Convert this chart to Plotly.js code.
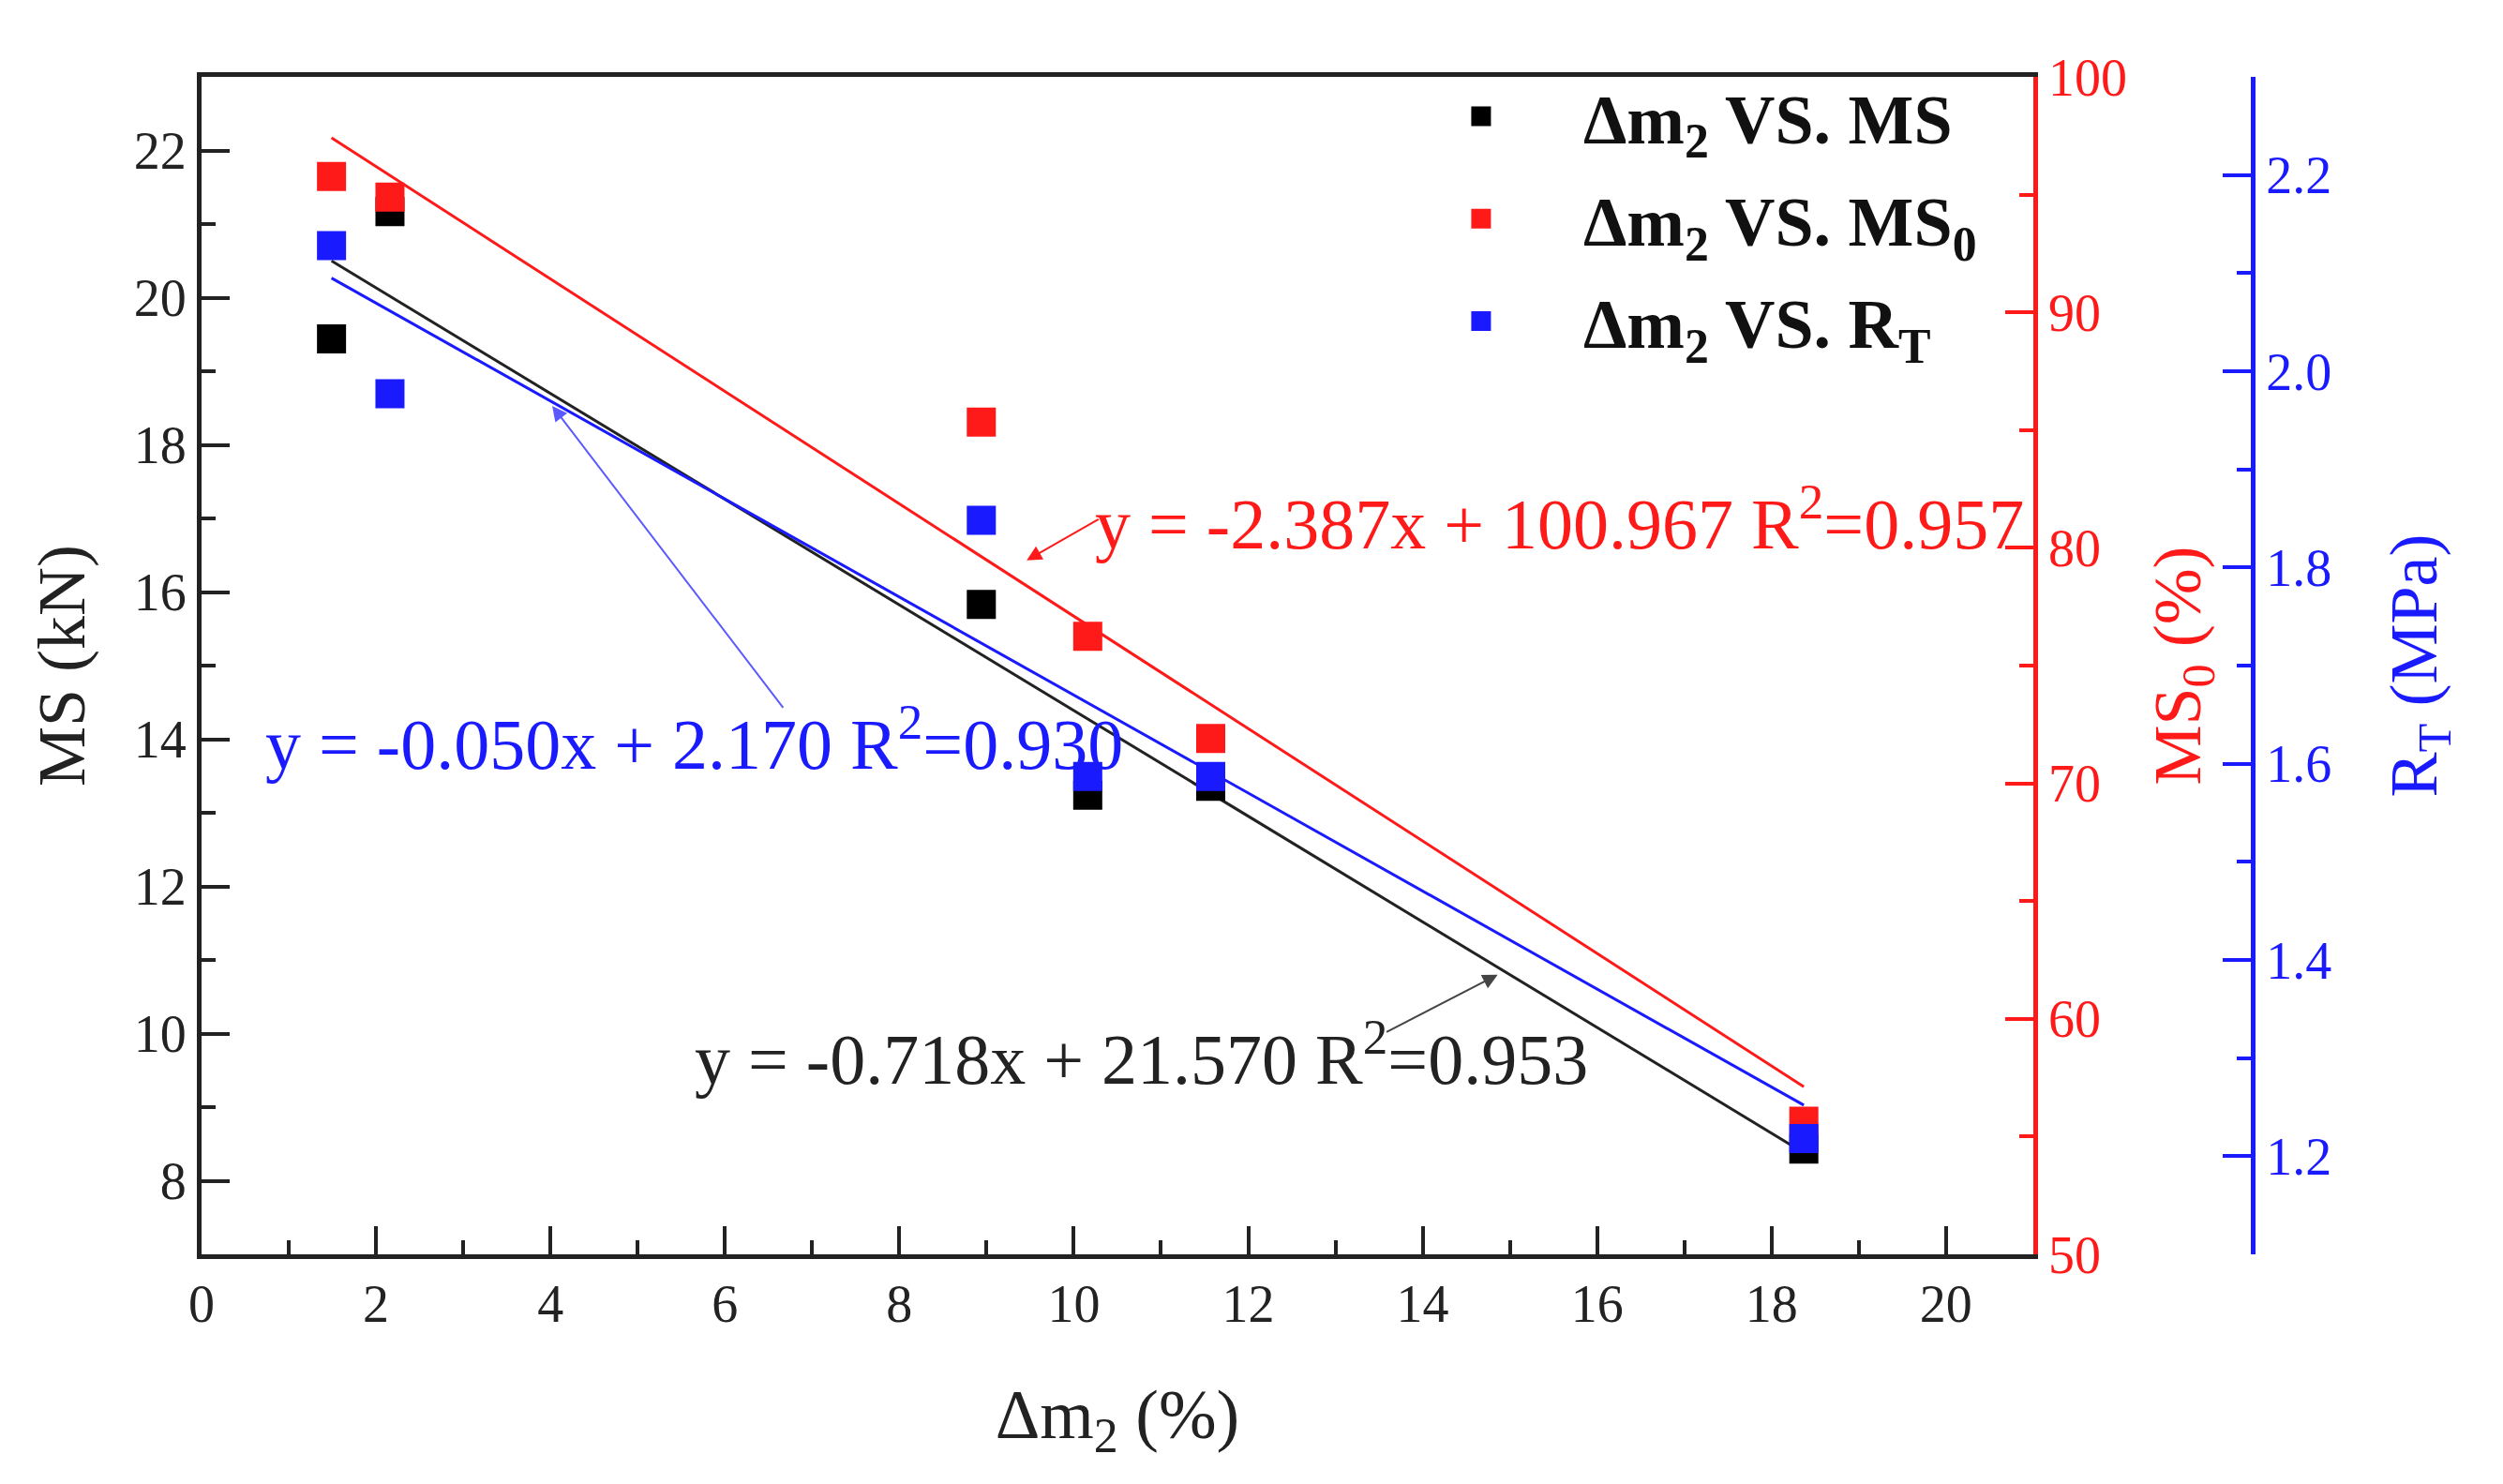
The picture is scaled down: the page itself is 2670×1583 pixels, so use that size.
<!DOCTYPE html>
<html>
<head>
<meta charset="utf-8">
<script src="https://cdn.plot.ly/plotly-3.0.1.min.js"></script>
<style>
  html, body { margin: 0; padding: 0; background: #fff; }
  #chart { width: 2670px; height: 1583px; }
</style>
</head>
<body>
<div id="chart"></div>
<script>
// values
var dm2 = [1.49, 2.16, 8.94, 10.16, 11.57, 18.37];
var ms = [19.44, 21.17, 15.83, 13.24, 13.36, 8.43];
var ms0 = [95.77, 94.89, 85.34, 76.24, 71.9, 55.65];
var rt = [2.128, 1.977, 1.848, 1.587, 1.587, 1.218];

// fitted lines, end points
var fitX = [1.49, 18.37];
var fitMS = [20.50, 8.38];
var fitMS0 = [97.41, 57.12];
var fitRT = [2.095, 1.252];

var FONT = 'Liberation Serif, Times New Roman, serif';
var RED = '#ff1a1a';
var BLUE = '#1a1aff';

function line(y, color, axis) {
    return {
        x: fitX, y: y, yaxis: axis,
        mode: 'lines', type: 'scatter',
        line: {color: color, width: 3},
        showlegend: false, hoverinfo: 'skip'
    }
}

// marker outline in the same colour, so the legend symbol gets bigger too
function pts(y, color, axis, name, grp) {
    return {
        x: dm2, y: y, yaxis: axis,
        mode: 'markers', type: 'scatter', name: name, legendgroup: grp,
        marker: {symbol: 'square', size: 26, color: color, line: {width: 5, color: color}}
    }
}

var data = [
    line(fitMS, '#222', 'y'),
    line(fitMS0, RED, 'y2'),
    line(fitRT, BLUE, 'y3'),
    pts(ms, '#000', 'y', '<b>Δm<sub>2</sub> VS. MS</b>', 'a'),
    pts(ms0, RED, 'y2', '<b>Δm<sub>2</sub> VS. MS<sub>0</sub></b>', 'b'),
    pts(rt, BLUE, 'y3', '<b>Δm<sub>2</sub> VS. R<sub>T</sub></b>', 'c')
];

var tickf = {family: FONT, size: 56, color: '#222'};
var eqf = 76;

// arrows + equation labels
var annotations = [
    {x: 10.78, y: 9.72, xref: 'x', yref: 'y', showarrow: false,
     text: 'y = -0.718x + 21.570 R<sup>2</sup>=0.953',
     font: {family: FONT, size: eqf, color: '#222'}},
    {x: 15.57, y: 17.0, xref: 'x', yref: 'y', showarrow: false,
     text: 'y = -2.387x + 100.967 R<sup>2</sup>=0.957',
     font: {family: FONT, size: eqf, color: RED}},
    {x: 5.65, y: 14.0, xref: 'x', yref: 'y', showarrow: false,
     text: 'y = -0.050x + 2.170 R<sup>2</sup>=0.930',
     font: {family: FONT, size: eqf, color: BLUE}},
    {x: 14.86, y: 10.8, ax: 13.57, ay: 10.01, xref: 'x', yref: 'y', axref: 'x', ayref: 'y',
     text: '', showarrow: true, arrowhead: 2, arrowsize: 1.6, arrowwidth: 2, arrowcolor: '#444'},
    {x: 9.46, y: 16.43, ax: 10.3, ay: 17.0, xref: 'x', yref: 'y', axref: 'x', ayref: 'y',
     text: '', showarrow: true, arrowhead: 2, arrowsize: 1.6, arrowwidth: 2, arrowcolor: RED},
    {x: 4.02, y: 18.53, ax: 6.68, ay: 14.41, xref: 'x', yref: 'y', axref: 'x', ayref: 'y',
     text: '', showarrow: true, arrowhead: 2, arrowsize: 1.6, arrowwidth: 2, arrowcolor: '#5a5aff'}
];

var layout = {
    width: 2670, height: 1583,
    margin: {l: 215, r: 267, t: 82, b: 245},
    paper_bgcolor: '#fff', plot_bgcolor: '#fff',
    font: {family: FONT},
    showlegend: true,
    legend: {
        x: 0.574, y: 1.01, xanchor: 'left', yanchor: 'top',
        bgcolor: 'rgba(0,0,0,0)', borderwidth: 0,
        font: {family: FONT, size: 74, color: '#111'},
        itemwidth: 208, traceorder: 'grouped', tracegroupgap: 10
    },
    xaxis: {
        domain: [0, 0.893], range: [0, 21],
        tick0: 0, dtick: 2, ticks: 'inside', ticklen: 30, tickwidth: 4, tickcolor: '#222',
        minor: {dtick: 1, ticks: 'inside', ticklen: 15, tickwidth: 4, tickcolor: '#222'},
        showline: true, linewidth: 5, linecolor: '#222', mirror: true,
        showgrid: false, zeroline: false, tickfont: tickf,
        title: {text: 'Δm<sub>2</sub> (%)', font: {family: FONT, size: 74, color: '#222'}, standoff: 62}
    },
    yaxis: {
        range: [7, 23], tick0: 0, dtick: 2,
        ticks: 'inside', ticklen: 30, tickwidth: 4, tickcolor: '#222',
        minor: {dtick: 1, ticks: 'inside', ticklen: 15, tickwidth: 4, tickcolor: '#222'},
        showline: true, linewidth: 5, linecolor: '#222',
        showgrid: false, zeroline: false, tickfont: tickf,
        title: {text: 'MS (kN)', font: {family: FONT, size: 72, color: '#222'}, standoff: 30}
    },
    yaxis2: {
        overlaying: 'y', side: 'right', anchor: 'x',
        range: [50, 100], dtick: 10,
        ticks: 'inside', ticklen: 30, tickwidth: 4, tickcolor: RED,
        minor: {dtick: 5, ticks: 'inside', ticklen: 15, tickwidth: 4, tickcolor: RED},
        showline: true, linewidth: 5, linecolor: RED,
        showgrid: false, zeroline: false,
        tickfont: {family: FONT, size: 56, color: RED},
        title: {text: 'MS<sub>0</sub> (%)', font: {family: FONT, size: 72, color: RED}, standoff: 30}
    },
    yaxis3: {
        overlaying: 'y', side: 'right', anchor: 'free', position: 1,
        range: [1.1, 2.3], dtick: 0.2, tickformat: '.1f',
        ticks: 'inside', ticklen: 30, tickwidth: 4, tickcolor: BLUE,
        minor: {dtick: 0.1, ticks: 'inside', ticklen: 15, tickwidth: 4, tickcolor: BLUE},
        showline: true, linewidth: 5, linecolor: BLUE,
        showgrid: false, zeroline: false,
        tickfont: {family: FONT, size: 56, color: BLUE},
        title: {text: 'R<sub>T</sub> (MPa)', font: {family: FONT, size: 72, color: BLUE}, standoff: 62}
    },
    annotations: annotations
};

Plotly.newPlot('chart', data, layout, {staticPlot: true});
</script>
</body>
</html>
